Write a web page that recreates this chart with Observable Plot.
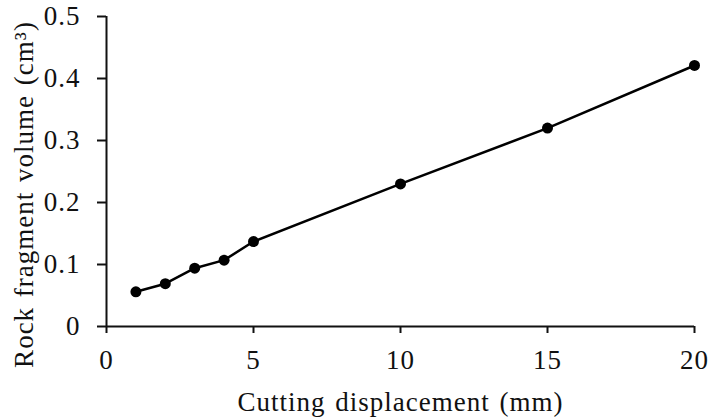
<!DOCTYPE html>
<html>
<head>
<meta charset="utf-8">
<script src="https://cdn.jsdelivr.net/npm/d3@7"></script>
<script src="https://cdn.jsdelivr.net/npm/@observablehq/plot@0.6"></script>
<style>
  html, body { margin: 0; padding: 0; background: #fff; }
</style>
</head>
<body>
<div id="chart"></div>
<script>
const displacement = [1, 2, 3, 4, 5, 10, 15, 20];
const volume = [0.056, 0.069, 0.094, 0.107, 0.137, 0.230, 0.320, 0.421];
const xTicks = [0, 5, 10, 15, 20];
const yTicks = [0, 0.1, 0.2, 0.3, 0.4, 0.5];
const xLabel = "Cutting displacement (mm)";
const yLabel = "Rock fragment volume (cm³)";

const data = displacement.map((d, i) => ({x: d, y: volume[i]}));
const font = "'Liberation Serif', 'Times New Roman', Times, serif";

const chart = Plot.plot({
  width: 709,
  height: 418,
  marginLeft: 106,
  marginRight: 15,
  marginTop: 16,
  marginBottom: 92,
  style: {fontFamily: font, fontSize: "27px", color: "#111", background: "#fff", letterSpacing: "1px", wordSpacing: "2px"},
  x: {domain: [0, 20]},
  y: {domain: [0, 0.5]},
  marks: [
    Plot.axisX({ticks: xTicks, tickSize: 7, tickPadding: 16, strokeWidth: 2, fontSize: 27,
      label: xLabel, labelAnchor: "center", labelArrow: "none", labelOffset: 84}),
    Plot.axisY({ticks: yTicks, tickSize: 9, tickPadding: 17, strokeWidth: 2, fontSize: 27,
      tickFormat: d => d === 0 ? "0" : d.toFixed(1), label: null}),
    Plot.ruleY([0], {stroke: "#111", strokeWidth: 2}),
    Plot.ruleX([0], {stroke: "#111", strokeWidth: 2}),
    Plot.line(data, {x: "x", y: "y", stroke: "#000", strokeWidth: 2.5}),
    Plot.dot(data, {x: "x", y: "y", r: 5.5, fill: "#000", stroke: "none"}),
    Plot.text([yLabel], {frameAnchor: "left", textAnchor: "middle", lineAnchor: "middle", rotate: -90, dx: -82, dy: 23, fontSize: 27, fill: "#111"})
  ]
});
document.getElementById("chart").appendChild(chart);
</script>
</body>
</html>
